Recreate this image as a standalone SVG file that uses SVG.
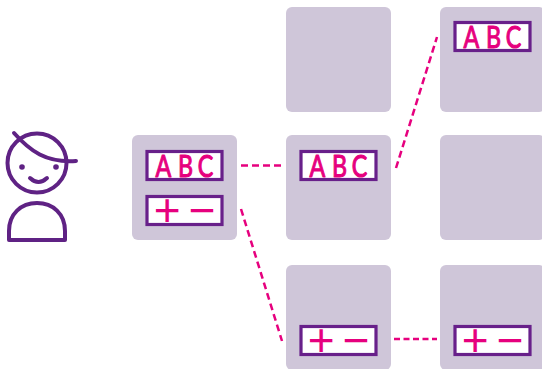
<svg xmlns="http://www.w3.org/2000/svg" width="542" height="369" viewBox="0 0 542 369">
<style>
.card{fill:#cfc6d9}
.box{fill:#fff;stroke:#68208a;stroke-width:3.200}
.t{font-family:"Lato","Liberation Sans",sans-serif;font-size:31px;fill:#e6007e;stroke:#e6007e;stroke-width:1.100;stroke-linejoin:round}
.s{font-family:"Liberation Sans",sans-serif;font-size:46px;fill:#e6007e}
.c{fill:none;stroke:#e6007e;stroke-width:2.500;stroke-dasharray:7 4}
.p{fill:none;stroke:#5f2284;stroke-width:4;stroke-linecap:round;stroke-linejoin:round}
</style>
<g id="person">
<circle class="p" cx="37" cy="163" r="29.500"/>
<path class="p" d="M14 133C30 151 46 163 76 161"/>
<circle cx="22" cy="167" r="2.800" fill="#5f2284"/><circle cx="56" cy="167" r="2.800" fill="#5f2284"/>
<path class="p" d="M30 178Q38.500 186 47 178"/>
<path class="p" d="M9 240V231C9 214 21 203 37 203C53 203 65 214 65 231V240Z"/>
</g>
<g id="node-left"><rect class="card" x="132" y="135" width="105" height="105" rx="6"/>
<rect class="box" x="147" y="151.500" width="75" height="28"/><text class="t" transform="translate(155.500 176.500) scale(.75 1)" x="0 30 56.500">ABC</text>
<rect class="box" x="147" y="196.500" width="75" height="28"/><text class="s" x="153.700 170 188.700" y="226">+ −</text></g>
<g id="node-a"><rect class="card" x="286" y="7" width="105" height="105" rx="6"/></g>
<g id="node-b"><rect class="card" x="286" y="135" width="105" height="105" rx="6"/>
<rect class="box" x="301" y="151.500" width="75" height="28"/><text class="t" transform="translate(309.500 176.500) scale(.75 1)" x="0 30 56.500">ABC</text></g>
<g id="node-c"><rect class="card" x="286" y="265" width="105" height="105" rx="6"/>
<rect class="box" x="301" y="326.500" width="75" height="28"/><text class="s" x="307.700 324 342.700" y="356">+ −</text></g>
<g id="node-d"><rect class="card" x="440" y="7" width="105" height="105" rx="6"/>
<rect class="box" x="455" y="22.500" width="75" height="28"/><text class="t" transform="translate(463.500 47.500) scale(.75 1)" x="0 30 56.500">ABC</text></g>
<g id="node-e"><rect class="card" x="440" y="135" width="105" height="105" rx="6"/></g>
<g id="node-f"><rect class="card" x="440" y="265" width="105" height="105" rx="6"/>
<rect class="box" x="455" y="326.500" width="75" height="28"/><text class="s" x="461.700 478 496.700" y="356">+ −</text></g>
<g id="connectors">
<path class="c" d="M241 165.500H284"/>
<path class="c" d="M241 209L282 341"/>
<path class="c" d="M396 168L437 37"/>
<path class="c" d="M394 339H437" style="stroke-dasharray:6 3.500"/>
</g>
</svg>
